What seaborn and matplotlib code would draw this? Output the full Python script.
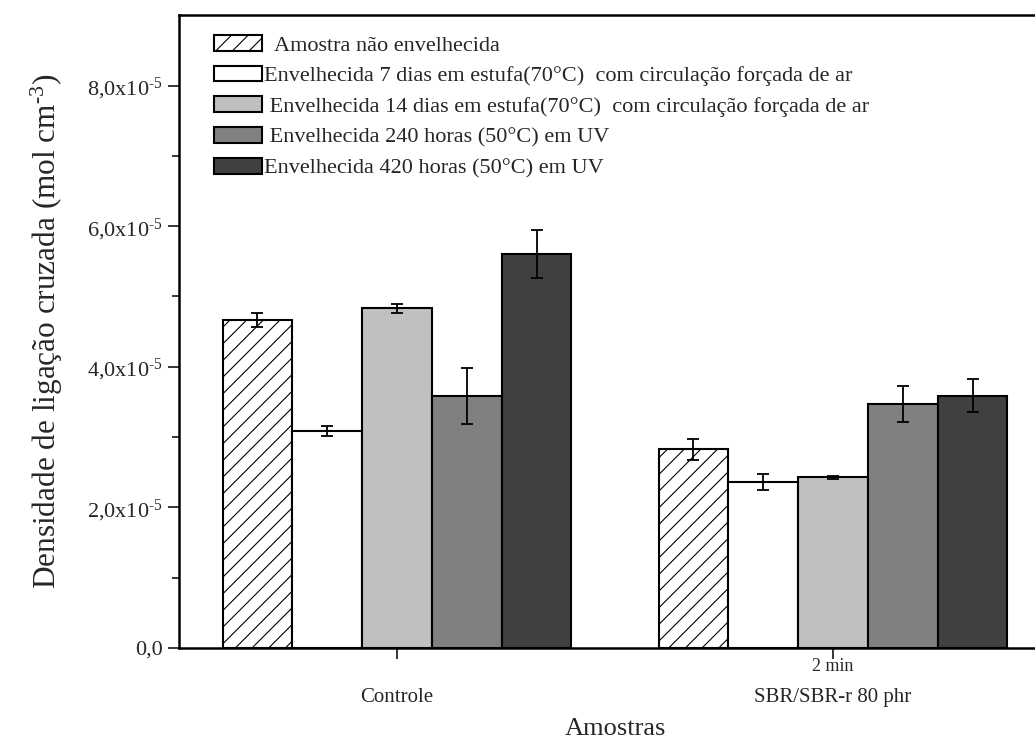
import numpy as np
import pandas as pd
import seaborn as sns
import matplotlib
matplotlib.use("Agg")
import matplotlib.pyplot as plt
from matplotlib.ticker import FixedLocator, FixedFormatter
import matplotlib.transforms as mtransforms

# ---- data (values in units of 1e-5 mol cm^-3) ----
samples = ["Controle", "SBR/SBR-r 80 phr"]
series = [
    "  Amostra não envelhecida",
    "Envelhecida 7 dias em estufa(70°C)  com circulação forçada de ar",
    " Envelhecida 14 dias em estufa(70°C)  com circulação forçada de ar",
    " Envelhecida 240 horas (50°C) em UV",
    "Envelhecida 420 horas (50°C) em UV",
]
controle_vals = [4.67, 3.09, 4.83, 3.59, 5.61]
controle_err = [0.10, 0.07, 0.06, 0.40, 0.34]
sbr_vals = [2.83, 2.36, 2.43, 3.47, 3.59]
sbr_err = [0.15, 0.11, 0.02, 0.26, 0.24]
colors = ["#FFFFFF", "#FFFFFF", "#C0C0C0", "#808080", "#404040"]
yticks = [0, 2e-5, 4e-5, 6e-5, 8e-5]
ytick_labels = ["0,0", r"2,0x10$^{\text{-5}}$", r"4,0x10$^{\text{-5}}$",
                r"6,0x10$^{\text{-5}}$", r"8,0x10$^{\text{-5}}$"]
minor_yticks = [1e-5, 3e-5, 5e-5, 7e-5]

scale = 1e-5
rows = []
for s, v in zip(series, controle_vals):
    rows.append({"Amostras": samples[0], "serie": s, "valor": v * scale})
for s, v in zip(series, sbr_vals):
    rows.append({"Amostras": samples[1], "serie": s, "valor": v * scale})
df = pd.DataFrame(rows)

sns.set_style("ticks")
plt.rcParams["font.family"] = ["Liberation Serif", "DejaVu Serif"]
plt.rcParams["mathtext.fontset"] = "custom"
plt.rcParams["mathtext.rm"] = "Liberation Serif"
plt.rcParams["mathtext.it"] = "Liberation Serif:italic"
plt.rcParams["hatch.linewidth"] = 0.8

fig = plt.figure(figsize=(10.35, 7.4), dpi=100)
ax = fig.add_axes([179 / 1035, 1 - 648 / 740, 872 / 1035, 632.7 / 740])

sns.barplot(data=df, x="Amostras", y="valor", hue="serie", hue_order=series,
            palette=colors, edgecolor="black", linewidth=1.5, errorbar=None,
            width=0.8, saturation=1, ax=ax, legend=False)

bar_containers = list(ax.containers)
errs = [[c * scale, s * scale] for c, s in zip(controle_err, sbr_err)]
for i, cont in enumerate(bar_containers):
    for j, bar in enumerate(cont.patches):
        if i == 0:
            bar.set_hatch("//")
        xc = bar.get_x() + bar.get_width() / 2
        ax.errorbar(xc, bar.get_height(), yerr=errs[i][j], fmt="none",
                    ecolor="black", elinewidth=1.3, capsize=4.5, capthick=1.3, zorder=5)

ax.set_xlim(-0.5, 1.5)
ax.set_ylim(0, 9e-5)
ax.yaxis.set_major_locator(FixedLocator(yticks))
ax.yaxis.set_major_formatter(FixedFormatter(ytick_labels))
ax.yaxis.set_minor_locator(FixedLocator(minor_yticks))
ax.tick_params(axis="y", which="major", length=8, width=1.3, labelsize=16, direction="out")
ax.tick_params(axis="y", which="minor", length=5, width=1.3, direction="out")
ax.tick_params(axis="x", which="major", length=8, width=1.3, labelsize=15, pad=21, direction="out")
ax.set_xticks([0, 1])
ax.set_xticklabels(samples)

ax.text(1, -0.029, "2 min", transform=mtransforms.blended_transform_factory(ax.transData, ax.transAxes),
        ha="center", va="center", fontsize=13)

for side in ["left", "bottom", "top"]:
    ax.spines[side].set_linewidth(1.8)
    ax.spines[side].set_color("black")
ax.spines["right"].set_visible(False)

ax.set_xlabel("Amostras", fontsize=19, labelpad=8)
ax.set_ylabel(r"Densidade de ligação cruzada (mol cm$^{\text{-3}}$)", fontsize=22.5, labelpad=16)

leg = ax.legend(bar_containers, series, loc="upper left", bbox_to_anchor=(0.030, 0.983),
                frameon=False, fontsize=16, handlelength=2.15, handleheight=0.72,
                labelspacing=0.45, handletextpad=0.1, borderaxespad=0)

fig.savefig("out.png", dpi=100)
